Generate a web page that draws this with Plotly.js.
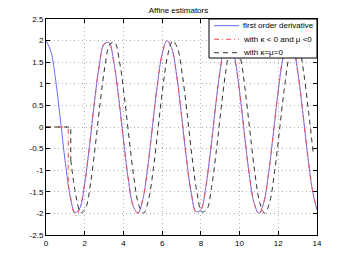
<!DOCTYPE html>
<html>
<head>
<meta charset="utf-8">
<script src="https://cdn.plot.ly/plotly-3.0.1.min.js"></script>
<style>html,body{margin:0;padding:0;background:#fff;}#chart{width:350px;height:264px;}</style>
</head>
<body>
<div id="chart"></div>
<script>
// ---- data ----
const blueX = [0,0.25,0.5,0.75,1,1.25,1.5,1.75,2,2.25,2.5,2.75,3,3.25,3.5,3.75,4,4.25,4.5,4.75,5,5.25,5.5,5.75,6,6.25,6.5,6.75,7,7.25,7.5,7.75,8,8.25,8.5,8.75,9,9.25,9.5,9.75,10,10.25,10.5,10.75,11,11.25,11.5,11.75,12,12.25,12.5,12.75,13,13.25,13.5,13.75,14];
const blueY = [2,1.755,1.081,0.141,-0.832,-1.602,-1.980,-1.873,-1.307,-0.422,0.567,1.417,1.920,1.953,1.508,0.693,-0.291,-1.204,-1.822,-1.994,-1.678,-0.951,0.009,0.967,1.688,1.996,1.815,1.190,0.273,-0.710,-1.519,-1.962,-1.915,-1.401,-0.550,0.439,1.321,1.887,1.977,1.592,0.816,-0.159,-1.095,-1.763,-2.000,-1.747,-1.066,-0.124,0.848,1.612,1.982,1.866,1.294,0.404,-0.584,-1.429,-1.925];

const redStartX = [0,1.15,1.15];
const redStartY = [0,0,-1.33];
const redX = [1.15,1.25,1.4,1.55,1.75,2,2.25,2.5,2.75,3,3.25,3.5,3.75,4,4.25,4.5,4.75,5,5.25,5.5,5.75,6,6.25,6.5,6.75,7,7.25,7.5,7.75,8,8.25,8.5,8.75,9,9.25,9.5,9.75,10,10.25,10.5,10.75,11,11.25,11.5,11.75,12,12.25,12.5,12.75,13,13.25,13.5,13.75,14];
const redY = [-1.33,-1.602,-1.93,-2.05,-1.873,-1.307,-0.422,0.567,1.417,1.920,1.953,1.508,0.693,-0.291,-1.204,-1.822,-1.994,-1.678,-0.951,0.009,0.967,1.688,1.996,1.815,1.190,0.273,-0.710,-1.519,-1.962,-1.915,-1.401,-0.550,0.439,1.321,1.887,1.977,1.592,0.816,-0.159,-1.095,-1.763,-2.000,-1.747,-1.066,-0.124,0.848,1.612,1.982,1.866,1.294,0.404,-0.584,-1.429,-1.925];

const blackStartX = [0,1.28,1.28];
const blackStartY = [0,0,-0.76];
const blackX = [1.28,1.55,1.8,2.05,2.3,2.55,2.8,3.05,3.3,3.55,3.8,4.05,4.3,4.55,4.8,5.05,5.3,5.55,5.8,6.05,6.3,6.55,6.8,7.05,7.3,7.55,7.8,8.05,8.3,8.55,8.8,9.05,9.3,9.55,9.8,10.05,10.3,10.55,10.8,11.05,11.3,11.55,11.8,12.05,12.3,12.55,12.8,13.05,13.3,13.55,13.8];
const blackY = [-0.76,-1.602,-1.980,-1.873,-1.307,-0.422,0.567,1.417,1.920,1.953,1.508,0.693,-0.291,-1.204,-1.822,-1.994,-1.678,-0.951,0.009,0.967,1.688,1.996,1.815,1.190,0.273,-0.710,-1.519,-1.962,-1.915,-1.401,-0.550,0.439,1.321,1.887,1.977,1.592,0.816,-0.159,-1.095,-1.763,-2.000,-1.747,-1.066,-0.124,0.848,1.612,1.982,1.866,1.294,0.404,-0.584];

const seriesNames = ['first order derivative','with \u03ba < 0 and \u03bc <0','with \u03ba=\u03bc=0'];
const xTickVals = [0,2,4,6,8,10,12,14];
const yTickVals = [-2.5,-2,-1.5,-1,-0.5,0,0.5,1,1.5,2,2.5];
const yTickText = ['-2.5','-2','-1.5','-1','-0.5','0','0.5','1','1.5','2','2.5'];
const titleText = 'Affine estimators';

// ---- styles ----
const FONT = 'Liberation Sans, Arial, Helvetica, sans-serif';
const BLUE = '#6b6bff', RED = '#ff4a4a', BLACK = '#333333';
const RED_DASH = '5px,3px,1px,3px', BLACK_DASH = '5px,4px';

const traces = [
  {x: blueX, y: blueY, mode: 'lines', line: {color: BLUE, width: 1, shape: 'spline'}, name: seriesNames[0], showlegend: false},
  {x: redStartX, y: redStartY, mode: 'lines', line: {color: RED, width: 1, dash: RED_DASH}, showlegend: false},
  {x: redX, y: redY, mode: 'lines', line: {color: RED, width: 1, dash: RED_DASH, shape: 'spline'}, name: seriesNames[1], showlegend: false},
  {x: blackStartX, y: blackStartY, mode: 'lines', line: {color: BLACK, width: 1, dash: BLACK_DASH}, showlegend: false},
  {x: blackX, y: blackY, mode: 'lines', line: {color: BLACK, width: 1, dash: BLACK_DASH, shape: 'spline'}, name: seriesNames[2], showlegend: false}
];

// custom MATLAB-like legend box
const legX0 = 0.6015, legX1 = 1.0, legY0 = 0.8194, legY1 = 1.0;
const rowY = [0.969, 0.906, 0.844];
const sampleX0 = 0.620, sampleX1 = 0.712, textX = 0.7196;
const legColors = [BLUE, RED, BLACK];
const legDash = ['solid', RED_DASH, BLACK_DASH];
const shapes = [{type: 'rect', xref: 'paper', yref: 'paper', x0: legX0, x1: legX1, y0: legY0, y1: legY1,
  line: {color: '#000', width: 1}, fillcolor: '#fff', layer: 'above'}];
const annotations = [];
seriesNames.forEach((n, i) => {
  shapes.push({type: 'line', xref: 'paper', yref: 'paper', x0: sampleX0, x1: sampleX1, y0: rowY[i], y1: rowY[i],
    line: {color: legColors[i], width: 1, dash: legDash[i]}, layer: 'above'});
  annotations.push({xref: 'paper', yref: 'paper', x: textX, y: rowY[i], xanchor: 'left', yanchor: 'middle',
    text: n, showarrow: false, font: {family: FONT, size: 8, color: '#000'}});
});

const axisCommon = {
  showline: true, linecolor: '#000', linewidth: 1, mirror: 'ticks',
  ticks: 'inside', ticklen: 4, tickcolor: '#000', tickwidth: 1,
  showgrid: true, gridcolor: '#b0b0b0', griddash: '1px,3px', gridwidth: 1,
  zeroline: false, tickfont: {family: FONT, size: 8, color: '#000'}
};

const layout = {
  width: 350, height: 264,
  margin: {l: 46, r: 33, t: 19, b: 29, pad: 0},
  paper_bgcolor: '#fff', plot_bgcolor: '#fff',
  title: {text: titleText, font: {family: FONT, size: 8, color: '#000'}, x: 0.51, xanchor: 'center', y: 0.962, yanchor: 'middle'},
  xaxis: Object.assign({}, axisCommon, {range: [0, 14], tickmode: 'array', tickvals: xTickVals}),
  yaxis: Object.assign({}, axisCommon, {range: [-2.5, 2.5], tickmode: 'array', tickvals: yTickVals, ticktext: yTickText}),
  showlegend: false,
  shapes: shapes,
  annotations: annotations
};

Plotly.newPlot('chart', traces, layout, {staticPlot: true, displayModeBar: false});
</script>
</body>
</html>
